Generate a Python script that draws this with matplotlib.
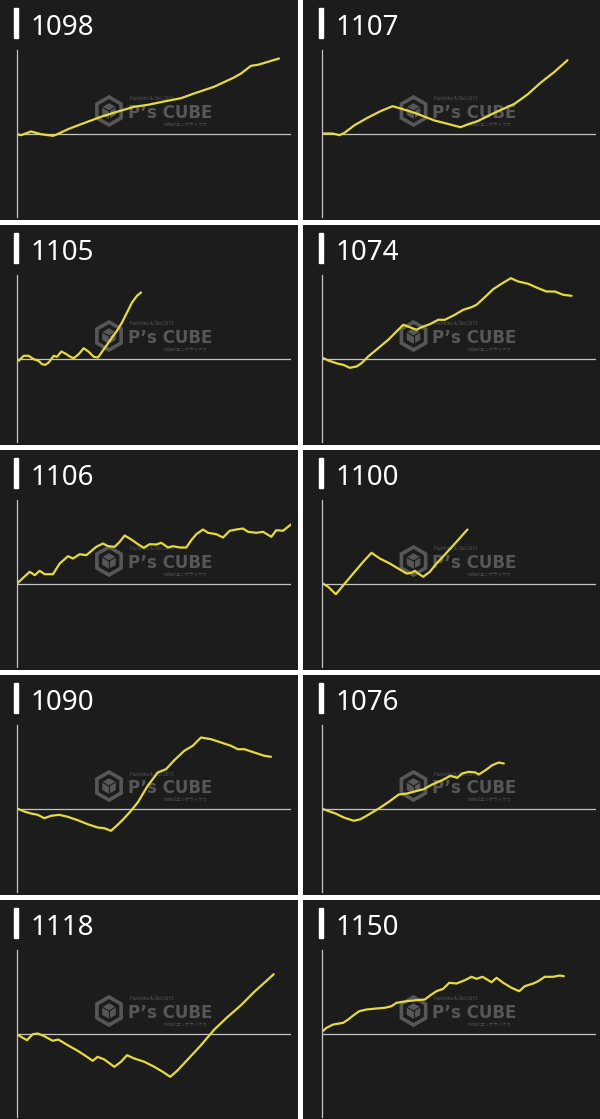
import numpy as np
import matplotlib
matplotlib.use('Agg')
import matplotlib.pyplot as plt
from matplotlib.patches import RegularPolygon, Rectangle

plt.rcParams['font.family'] = ['Noto Sans', 'Noto Sans CJK JP', 'DejaVu Sans']

# machine numbers, row by row
labels = ['1098', '1107', '1105', '1074', '1106', '1100', '1090', '1076', '1118', '1150']

# balance curves: x = play progress, y = difference (baseline = 0)
x_1098 = [0, 4, 14, 24, 36, 39, 51, 64, 84, 101, 117, 131, 147, 164, 177, 197, 217, 224, 234, 241, 251, 262]
y_1098 = [-0.7, -1.7, 2, -0.7, -2.3, -1.3, 4.3, 9.3, 16.7, 22, 26.7, 28.7, 32, 35.3, 40, 46.7, 56, 60, 67.7, 68.7, 71.7, 75]

x_1107 = [0, 11, 18, 23, 33, 46, 59, 71, 79, 93, 113, 126, 139, 146, 156, 173, 193, 206, 219, 233, 246]
y_1107 = [0, 0, -1.7, 0.7, 8.3, 15.7, 22.3, 27.3, 25, 20.7, 13, 9.7, 6.3, 9, 12.3, 20.7, 29.7, 39, 50.7, 61.7, 73.3]

x_1105 = [0, 1.7, 6.7, 11.7, 16.7, 20, 22.3, 25, 28.3, 31.7, 36.7, 40, 44.3, 48.3, 53.3, 56.7, 61.7, 66.7,
          71.7, 76.7, 81, 85, 90, 95, 100, 105, 110, 115, 120, 124]
y_1105 = [0, -2.3, 2.7, 2.7, -0.7, -1.7, -3, -5.7, -6.3, -4, 2.7, 1.7, 7, 5, 1.7, 0.3, 4.3, 10.3,
          6.7, 1.7, 1, 6.7, 13.7, 21, 27.7, 36, 46, 56, 62.7, 66]

x_1074 = [0, 6.7, 16.7, 21.7, 28.3, 35, 40, 46.7, 56.7, 66.7, 75, 81.7, 88.3, 95, 100, 108.3, 116.7,
          123.3, 133.3, 141.7, 150, 155, 163.3, 171.7, 180, 189.3, 196.7, 206.7, 216.7, 225, 233.3, 241.7, 250]
y_1074 = [1.3, -2, -5.3, -6.3, -9.3, -8, -4.7, 2, 10.3, 18.7, 27, 33.7, 31.3, 28.7, 31.3, 34.3, 38.7,
          38.7, 43.7, 48.7, 51.3, 53.7, 61.3, 69.3, 74.7, 80.3, 77, 74.7, 70.3, 67, 67, 63.7, 62.7]

x_1106 = [0, 12.7, 17.7, 22.7, 27.7, 36, 42.7, 51, 56, 62.7, 69.3, 79.3, 86, 91, 97.7, 102.7, 107.7,
          114.3, 121, 126.7, 132.7, 139.3, 144.3, 151, 156, 162.7, 169.3, 174.3, 179.3, 186, 191,
          199.3, 206, 212.7, 219.3, 226, 231, 239.3, 246, 254.3, 259.3, 266, 274.3]
y_1106 = [0, 11.7, 8.3, 12.7, 9.3, 9.3, 20, 27.3, 25, 29.3, 28.3, 36.7, 40, 37.3, 36.7, 41.7, 48,
          44, 39.3, 35.7, 39.3, 39, 40.7, 36, 37.3, 36, 36, 43.3, 49.3, 54, 50.7,
          49.3, 46, 52.7, 54, 55, 51.7, 50.7, 51.7, 46.7, 53.3, 52.7, 59.3]

x_1100 = [0, 6.7, 14.3, 18.3, 23.3, 31.7, 41.7, 50, 58.3, 68.3, 78.3, 85, 90, 93.3, 96.7, 101.7,
          108.3, 115, 125, 135, 141.7, 146]
y_1100 = [0.7, -3.3, -10.7, -6, 0, 10, 21.7, 30.7, 25, 20, 14, 10, 10.7, 12.7, 10, 6.7,
          11.7, 20, 30.7, 41.7, 49.3, 54]

x_1090 = [0, 7.3, 14, 20.7, 27.3, 34, 42.3, 50.7, 60.7, 70.7, 80.7, 87.3, 94, 100.7, 107.3, 114,
          120.7, 130.7, 140.7, 149, 157.3, 167.3, 175.7, 184, 194, 204, 214, 220.7, 227.3, 237.3, 247.3, 254]
y_1090 = [0, -3, -5, -6.3, -9.7, -7.3, -6.3, -8.3, -11.7, -15.7, -19, -19.7, -22.3, -16.3, -9.7, -2.3,
          6, 22.7, 36, 39.3, 48.3, 57.7, 62.7, 71, 69.3, 66, 62.7, 59.3, 59.3, 56, 52.7, 51.7]

x_1076 = [0, 7.3, 14, 22.3, 32.3, 39, 47.3, 57.3, 67.3, 77.3, 85.7, 94, 102.3, 110.7, 120.7, 129,
          135.7, 140.7, 147.3, 154, 157.3, 164, 170.7, 177.3, 182.3]
y_1076 = [0, -2.7, -5, -9, -12.3, -10.7, -6, 0, 6.7, 14, 15, 17.3, 19.3, 24, 28.3, 32.7,
          30.7, 35, 36.7, 36, 34, 38.3, 43.3, 46, 45]

x_1118 = [0, 4, 10, 15.7, 20.7, 27.3, 35.7, 41.3, 50.7, 60.7, 69, 75.7, 80.7, 87.3, 97.3, 104, 110,
          117.3, 127.3, 137.3, 145.7, 153.3, 160.7, 170.7, 184, 197.3, 210.7, 224, 237.3, 247.3, 256.7]
y_1118 = [-0.7, -3.3, -6.7, -0.7, 0, -2.7, -7.3, -6, -11.7, -17.3, -22.7, -27.3, -23.3, -26, -33.3, -28.3, -21.7,
          -25, -28.3, -33.3, -38.3, -43.3, -36.7, -26, -11.7, 4, 16.7, 28.3, 41.7, 50.7, 59.3]

x_1150 = [0, 5, 11.7, 21.7, 26.7, 31.7, 37.7, 45, 55, 63.3, 70, 75, 85, 95, 103.3, 110, 115, 121.7,
          127.7, 135, 143.3, 150, 155, 161, 170, 175, 181.7, 190, 197.7, 203.3, 211.7, 216.7, 223.3,
          231.7, 238.3, 242.3]
y_1150 = [1.3, 5.7, 9, 10.7, 14, 18, 22.3, 24, 25, 25.7, 27.3, 30.7, 32.3, 33.3, 34, 39, 42.3, 44.7,
          50.7, 50, 53.3, 56.7, 54.7, 56.7, 51.3, 55.7, 50.7, 45.7, 42.3, 47.3, 50, 52.3, 56.7,
          56.7, 58, 57.3]

series = [(x_1098, y_1098), (x_1107, y_1107), (x_1105, y_1105), (x_1074, y_1074),
          (x_1106, y_1106), (x_1100, y_1100), (x_1090, y_1090), (x_1076, y_1076),
          (x_1118, y_1118), (x_1150, y_1150)]

BG = '#1c1c1c'
LINE = '#e6db3c'
AXIS = '#c4c4c4'
MARK = '#575757'

W, H = 600, 1119
fig = plt.figure(figsize=(W / 100, H / 100), dpi=100, facecolor='white')

row_top = [0, 225, 450, 675, 900]
col_left = [0, 303]
col_w = [298, 297]

for i, (lab, (xs, ys)) in enumerate(zip(labels, series)):
    r, c = divmod(i, 2)
    px, py = col_left[c], row_top[r]
    pw, ph = col_w[c], min(220, H - py)
    dx = 1.5 * c

    # panel background + header
    bg = fig.add_axes([px / W, 1 - (py + ph) / H, pw / W, ph / H])
    bg.set_facecolor(BG)
    bg.set_xlim(0, pw)
    bg.set_ylim(ph, 0)
    bg.set_xticks([])
    bg.set_yticks([])
    for s in bg.spines.values():
        s.set_visible(False)
    bg.add_patch(Rectangle((14 + dx, 8), 4, 30, color='white'))
    bg.text(31 + dx, 35, lab, color='white', fontsize=20, va='baseline', ha='left')

    # watermark logo
    cx, cy = 109 + dx, 111
    bg.add_patch(RegularPolygon((cx, cy), 6, radius=14, orientation=0, fill=False,
                                edgecolor=MARK, lw=2.6))
    bg.add_patch(RegularPolygon((cx, cy), 6, radius=7, orientation=0, color=MARK))
    rr = 7
    for ang in [30, 150, 270]:
        a = np.deg2rad(ang)
        bg.plot([cx, cx + rr * np.cos(a)], [cy, cy - rr * np.sin(a)], color=BG, lw=0.8)
    bg.text(128 + dx, 118, 'P\u2019s CUBE', color=MARK, fontsize=12, fontweight='bold',
            va='baseline', ha='left', family=['DejaVu Sans'])
    bg.text(130 + dx, 99, 'Pachinko & Slot 2015', color=MARK, fontsize=3.2, va='center', ha='left')
    bg.text(207 + dx, 124, 'index/エンゲライクス', color=MARK, fontsize=3.2, va='center', ha='right')

    # plot area
    ax = fig.add_axes([(px + 17 + dx) / W, 1 - (py + 217) / H, 274 / W, 167 / H])
    ax.patch.set_alpha(0)
    ax.set_xlim(0, 274)
    ax.set_ylim(-83.5, 83.5)
    ax.set_xticks([])
    ax.set_yticks([])
    for name, s in ax.spines.items():
        if name == 'left':
            s.set_color(AXIS)
            s.set_linewidth(0.9)
        else:
            s.set_visible(False)
    ax.axhline(0, color=AXIS, lw=0.9)
    ax.plot(xs, ys, color=LINE, lw=1.6, solid_joinstyle='round', solid_capstyle='round')

fig.savefig('out.png', dpi=100, facecolor='white')
